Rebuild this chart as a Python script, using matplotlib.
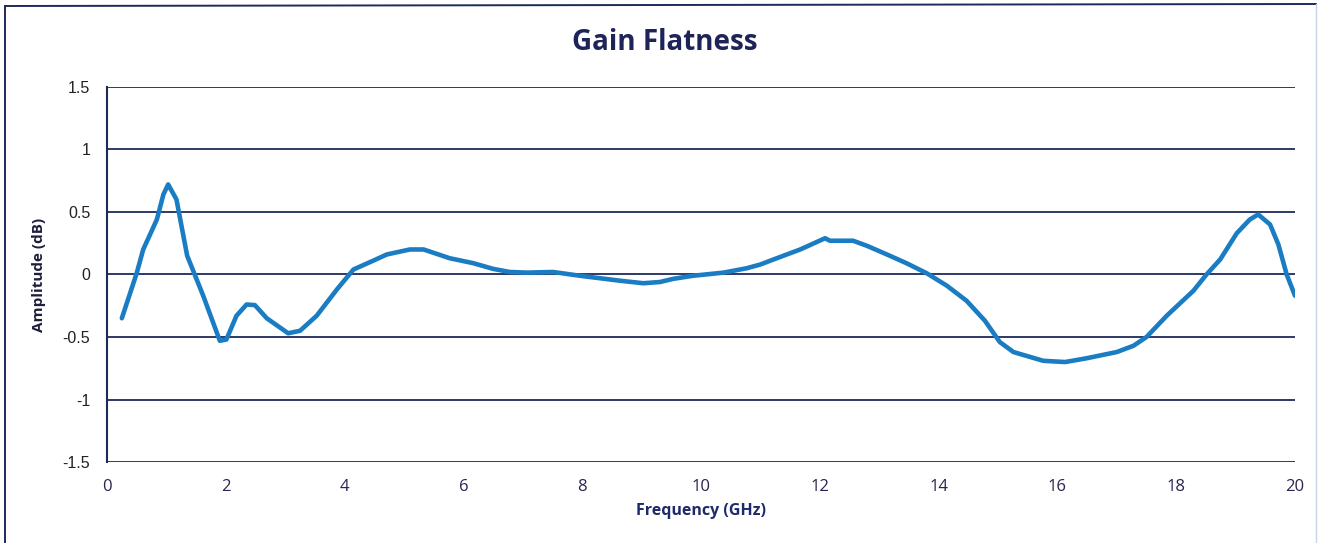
import matplotlib.pyplot as plt
from matplotlib.lines import Line2D

# Gain flatness curve
freq_ghz = [0.25, 0.5, 0.61, 0.84, 0.95, 1.03, 1.17, 1.35, 1.62, 1.9, 2.01,
            2.18, 2.35, 2.49, 2.69, 3.05, 3.25, 3.53, 3.87, 4.15, 4.48, 4.71,
            5.1, 5.33, 5.77, 6.17, 6.5, 6.78, 7.07, 7.51, 7.96, 8.64, 9.03,
            9.31, 9.53, 9.87, 10.38, 10.77, 11.0, 11.22, 11.67, 12.09, 12.17,
            12.56, 12.79, 13.13, 13.46, 13.8, 14.14, 14.47, 14.78, 15.03,
            15.26, 15.76, 16.13, 16.49, 17.0, 17.28, 17.5, 17.84, 18.29,
            18.51, 18.74, 19.02, 19.24, 19.38, 19.58, 19.72, 19.86, 20.0]
amplitude_db = [-0.35, 0.01, 0.2, 0.44, 0.64, 0.72, 0.6, 0.15, -0.17, -0.53,
                -0.52, -0.33, -0.24, -0.245, -0.35, -0.47, -0.45, -0.33, -0.12,
                0.04, 0.11, 0.16, 0.2, 0.2, 0.13, 0.09, 0.045, 0.02, 0.015,
                0.02, -0.01, -0.05, -0.07, -0.06, -0.035, -0.01, 0.015, 0.05,
                0.08, 0.12, 0.2, 0.29, 0.27, 0.27, 0.23, 0.16, 0.09, 0.01,
                -0.09, -0.21, -0.37, -0.54, -0.62, -0.69, -0.7, -0.67, -0.62,
                -0.57, -0.5, -0.33, -0.13, 0.0, 0.12, 0.33, 0.44, 0.48, 0.4,
                0.24, 0.0, -0.17]

x_ticks = [0, 2, 4, 6, 8, 10, 12, 14, 16, 18, 20]
y_ticks = [-1.5, -1, -0.5, 0, 0.5, 1, 1.5]
y_labels = ['-1.5', '-1', '-0.5', '0', '0.5', '1', '1.5']

navy = '#1e2a5a'
blue = '#1a7dc4'

fig = plt.figure(figsize=(13.24, 5.43), dpi=100)
ax = fig.add_axes([0.0808, 0.149, 0.8973, 0.691])

ax.plot(freq_ghz, amplitude_db, color=blue, linewidth=3.3,
        solid_joinstyle='round', solid_capstyle='round')

ax.set_xlim(0, 20)
ax.set_ylim(-1.5, 1.5)
ax.set_xticks(x_ticks)
ax.set_xticklabels([str(t) for t in x_ticks], fontsize=12, family='Open Sans', color='#2a2450')
ax.set_yticks(y_ticks)
ax.set_yticklabels(y_labels, fontsize=11.5, family='Liberation Sans', color='#222222')
ax.tick_params(length=0, pad=12)
ax.tick_params(axis='x', pad=12)

for y in y_ticks:
    ax.axhline(y, color=navy, linewidth=1.3, zorder=0)

for side in ['top', 'right', 'bottom']:
    ax.spines[side].set_visible(False)
ax.spines['left'].set_color(navy)
ax.spines['left'].set_linewidth(1.5)

ax.set_xlabel('Frequency (GHz)', fontsize=11.5, fontweight='bold', family='Open Sans',
              color='#1e2a6a', labelpad=6)
ax.set_ylabel('Amplitude (dB)', fontsize=11, fontweight='bold', family='Open Sans',
              color='#1e1e3a', labelpad=12)

fig.text(0.502, 0.921, 'Gain Flatness', ha='center', va='center', fontsize=20,
         fontweight='bold', family='Open Sans', color='#1e2358')

# outer chart border from the scan
W, H = 1324, 543
fig.add_artist(Line2D([5 / W, 5 / W], [0, 1 - 6 / H], color=navy, linewidth=1.4))
fig.add_artist(Line2D([5 / W, 1316 / W], [1 - 6 / H, 1 - 4 / H], color=navy, linewidth=1.4))
fig.add_artist(Line2D([1316 / W, 1316 / W], [0, 1 - 4 / H], color='#c8d4e4', linewidth=1.0))

plt.savefig('out.png', dpi=100)
